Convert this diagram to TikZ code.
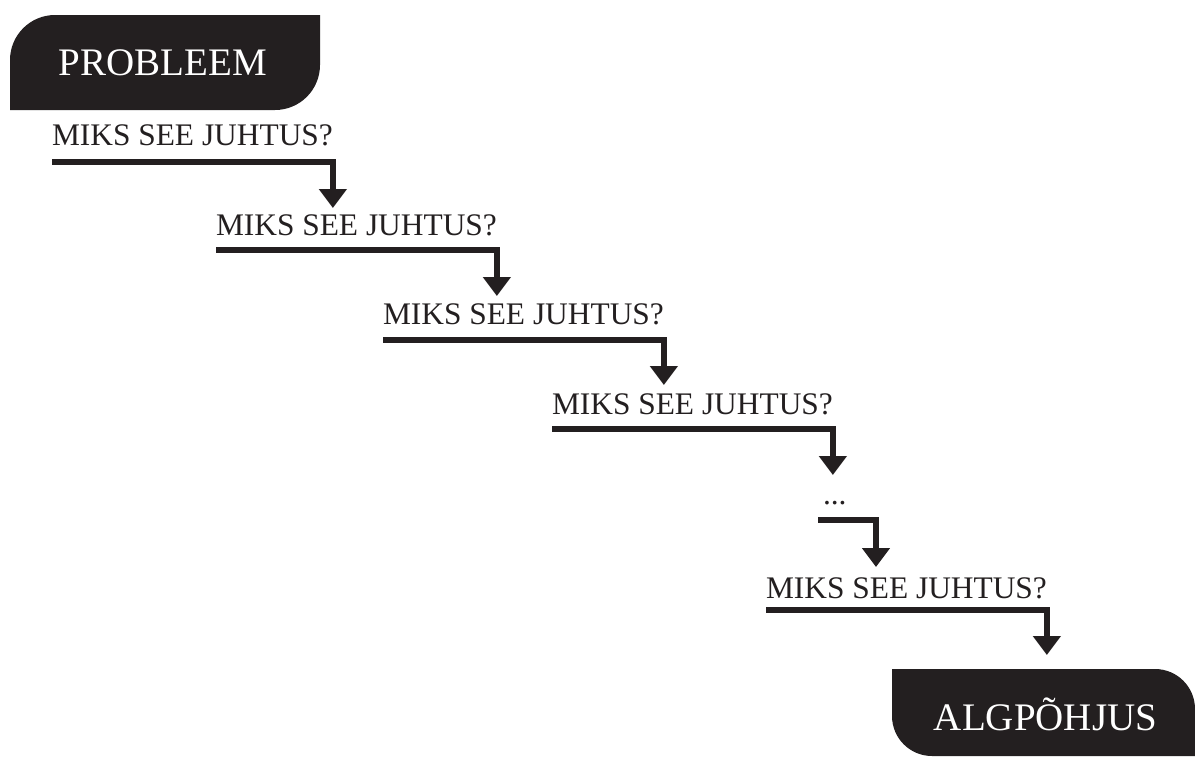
\documentclass[tikz,border=0pt]{standalone}
\usepackage{fontspec}
\setmainfont{Liberation Serif}
\usetikzlibrary{arrows.meta}
\definecolor{ink}{HTML}{231F20}
\begin{document}
\begin{tikzpicture}[x=1pt,y=-1pt,
  q/.style={anchor=base west,inner sep=0pt,outer sep=0pt,text=ink,font=\fontsize{31.4}{36}\selectfont},
  conn/.style={draw=ink,line width=6.5pt,line join=miter,-{Triangle[width=27pt,length=19pt]}},
  boxtext/.style={anchor=base,inner sep=0pt,text=white,font=\fontsize{39}{44}\selectfont}]
\useasboundingbox (0,0) rectangle (1195,756);
% boxes
\fill[ink] (10,110) -- (10,60) .. controls (10,35.15) and (30.15,15) .. (55,15) -- (320,15)
  -- (320,65) .. controls (320,89.85) and (299.85,110) .. (275,110) -- cycle;
\node[boxtext] (prob) at (163,75) {PROBLEEM};
\fill[ink] (892,669) -- (1155,669) .. controls (1177.1,669) and (1195,686.9) .. (1195,709)
  -- (1195,756) -- (932,756) .. controls (909.9,756) and (892,738.1) .. (892,716) -- cycle;
\node[boxtext] (root) at (1045.5,730) {ALGPÕHJUS};
% questions
\node[q] (q1) at (52,145) {MIKS SEE JUHTUS?};
\node[q] (q2) at (216,235) {MIKS SEE JUHTUS?};
\node[q] (q3) at (383,324) {MIKS SEE JUHTUS?};
\node[q] (q4) at (552,414) {MIKS SEE JUHTUS?};
\node[q] (q5) at (823,504) {...};
\node[q] (q6) at (766,598) {MIKS SEE JUHTUS?};
\coordinate (d1) at (818,520);
\coordinate (d2) at (876,567);
% connectors
\draw[conn] ([yshift=-17pt]q1.base west) -| ([yshift=-63pt]q1.base east);
\draw[conn] ([yshift=-15pt]q2.base west) -| ([yshift=-61pt]q2.base east);
\draw[conn] ([yshift=-16pt]q3.base west) -| ([yshift=-61pt]q3.base east);
\draw[conn] ([yshift=-15pt]q4.base west) -| ([yshift=-61pt]q4.base east);
\draw[conn] (d1) -| (d2);
\draw[conn] ([yshift=-12pt]q6.base west) -| ([yshift=-57pt]q6.base east);
\end{tikzpicture}
\end{document}
